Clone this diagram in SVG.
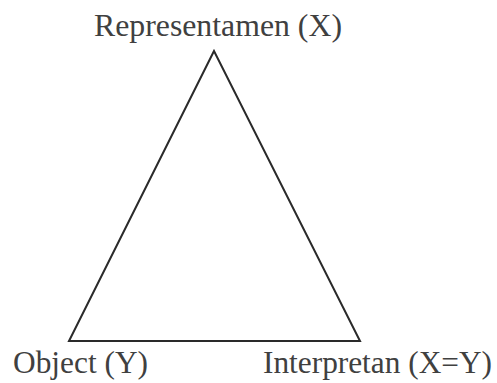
<svg xmlns="http://www.w3.org/2000/svg" width="497" height="383" viewBox="0 0 497 383">
<style>
.lbl{font-family:"Liberation Serif","Times New Roman",serif;font-size:31px;fill:#404040}
.edge{fill:none;stroke:#2a2a2a;stroke-width:2;stroke-linejoin:miter}
</style>
<rect width="497" height="383" fill="#ffffff"/>
<g id="connectors">
<polygon class="edge" points="214,51 69,341 360,341"/>
</g>
<g id="representamen"><text class="lbl" x="94" y="36" textLength="248" lengthAdjust="spacingAndGlyphs">Representamen (X)</text></g>
<g id="object"><text class="lbl" x="13" y="373" textLength="135" lengthAdjust="spacingAndGlyphs">Object (Y)</text></g>
<g id="interpretan"><text class="lbl" x="263" y="373" textLength="229" lengthAdjust="spacingAndGlyphs">Interpretan (X=Y)</text></g>
</svg>
